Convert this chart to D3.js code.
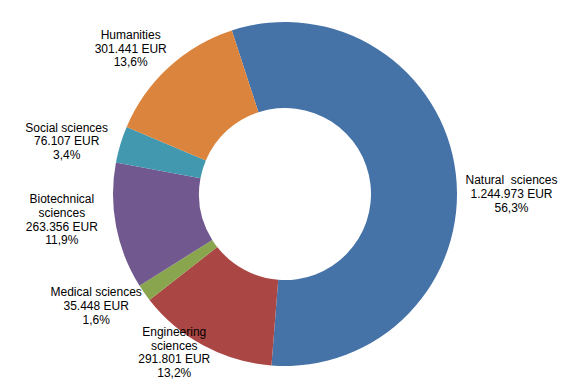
<!DOCTYPE html>
<html>
<head>
<meta charset="utf-8">
<script src="https://cdn.jsdelivr.net/npm/d3@7"></script>
<style>
  body { margin: 0; background: #fff; }
  text { font-family: Arial, "Liberation Sans", sans-serif; font-size: 12px; fill: #000; white-space: pre; }
</style>
</head>
<body>
<div id="chart"></div>
<script>
// data
var fields = ['Natural  sciences', 'Engineering\nsciences', 'Medical sciences', 'Biotechnical\nsciences', 'Social sciences', 'Humanities']
var amounts = [1244973, 291801, 35448, 263356, 76107, 301441]
var colors = ['#4572A7', '#AA4643', '#89A54E', '#71588F', '#4198AF', '#DB843D']

var width = 575, height = 383
var cx = 285, cy = 194
var outerR = 172, innerR = 86

// label nudges (relative to label arc centroid), Excel-ish placement
var nudge = [[13, 25], [-9, -31], [-13, -12], [-12, -15], [-12.5, 9], [-9, 13]]

var loc = d3.formatLocale({decimal: ',', thousands: '.', grouping: [3], currency: ['', ' EUR']})
var fmtEur = loc.format(',d')
var fmtPct = loc.format('.1%')

var total = d3.sum(amounts)
var startAngle = -18 * Math.PI / 180

var pie = d3.pie()
    .sort(null)
    .startAngle(startAngle)
    .endAngle(startAngle + 2 * Math.PI)
    (amounts)

var arc = d3.arc().innerRadius(innerR).outerRadius(outerR)
var labelArc = d3.arc().innerRadius(215).outerRadius(215)

var svg = d3.select('#chart').append('svg')
    .attr('width', width)
    .attr('height', height)

var g = svg.append('g').attr('transform', `translate(${cx}, ${cy})`)

g.selectAll('path.slice')
    .data(pie).enter()
    .append('path')
    .attr('class', 'slice')
    .attr('d', arc)
    .style('fill', (d, i) => colors[i])

var lineH = 13.6
var labels = g.selectAll('g.label')
    .data(pie).enter()
    .append('g')
    .attr('class', 'label')
    .each(function(d, i) {
        var lines = fields[i].split('\n')
        lines.push(fmtEur(d.value) + ' EUR')
        lines.push(fmtPct(d.value / total))
        var c = labelArc.centroid(d)
        var x = c[0] + nudge[i][0]
        var yc = c[1] + nudge[i][1]
        var y0 = yc + 4.3 - (lines.length - 1) * lineH / 2
        var t = d3.select(this).append('text')
            .attr('text-anchor', 'middle')
        lines.forEach((l, k) => {
            t.append('tspan')
                .attr('x', x)
                .attr('y', y0 + k * lineH)
                .text(l)
        })
    })
</script>
</body>
</html>
